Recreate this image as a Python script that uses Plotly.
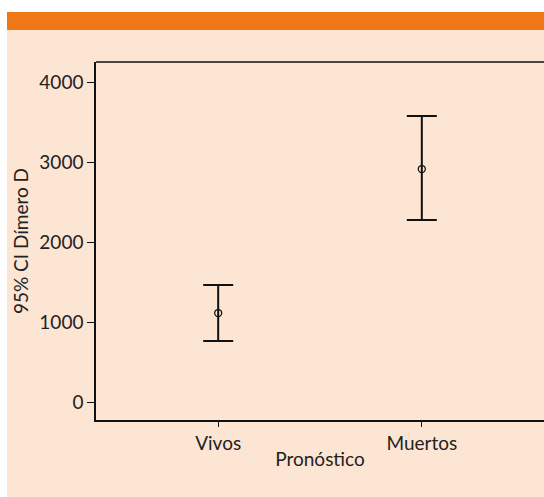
import plotly.graph_objects as go

categories = ["Vivos", "Muertos"]
means = [1112, 2912]
upper = [1462, 3575]
lower = [762, 2275]
y_ticks = [0, 1000, 2000, 3000, 4000]

W, H = 544, 497
L, R, T, B = 96, 0, 62, 77
pw, ph = W - L - R, H - T - B

def px_x(p):
    return (p - L) / pw

def px_y(p):
    return (H - B - p) / ph

PEACH = "#FDE5D4"
ORANGE = "#EF7715"
FONT = "Lato, 'Open Sans', sans-serif"

fig = go.Figure()
fig.add_trace(go.Scatter(
    x=[0, 1], y=means, mode="markers",
    marker=dict(symbol="circle-open", size=7, color="#111", line=dict(width=1.3, color="#111")),
    error_y=dict(type="data", symmetric=False,
                 array=[u - m for u, m in zip(upper, means)],
                 arrayminus=[m - l for m, l in zip(means, lower)],
                 color="#111", thickness=2, width=15),
    showlegend=False,
))

fig.update_layout(
    width=W, height=H,
    margin=dict(l=L, r=R, t=T, b=B),
    paper_bgcolor="white",
    plot_bgcolor="rgba(0,0,0,0)",
    font=dict(family=FONT, size=19, color="#222"),
    xaxis=dict(range=[-0.6, 1.6], tickvals=[0, 1], ticktext=categories,
               showgrid=False, zeroline=False, showline=True, linecolor="#111", linewidth=1.5,
               ticks="outside", ticklen=5, tickcolor="#111",
               title=dict(text="Pronóstico", standoff=0, font=dict(size=19))),
    yaxis=dict(range=[-225, 4250], tickvals=y_ticks,
               showgrid=False, zeroline=False, showline=True, linecolor="#111", linewidth=1.5,
               ticks="outside", ticklen=7, tickcolor="#111",
               title=dict(text="95% CI Dímero D", standoff=6, font=dict(size=19))),
    shapes=[
        dict(type="rect", xref="paper", yref="paper", x0=px_x(7), x1=px_x(W + 5),
             y0=px_y(H + 5), y1=px_y(30), fillcolor=PEACH, line=dict(width=0), layer="below"),
        dict(type="rect", xref="paper", yref="paper", x0=px_x(7), x1=px_x(W + 5),
             y0=px_y(30), y1=px_y(12), fillcolor=ORANGE, line=dict(width=0), layer="below"),
        dict(type="line", xref="paper", yref="paper", x0=0, x1=1.02, y0=1, y1=1,
             line=dict(color="#111", width=1.5)),
    ],
)

fig.write_html("out.html", config={"displayModeBar": False},
               post_script="document.body.style.margin='0';document.body.style.overflow='hidden';")
